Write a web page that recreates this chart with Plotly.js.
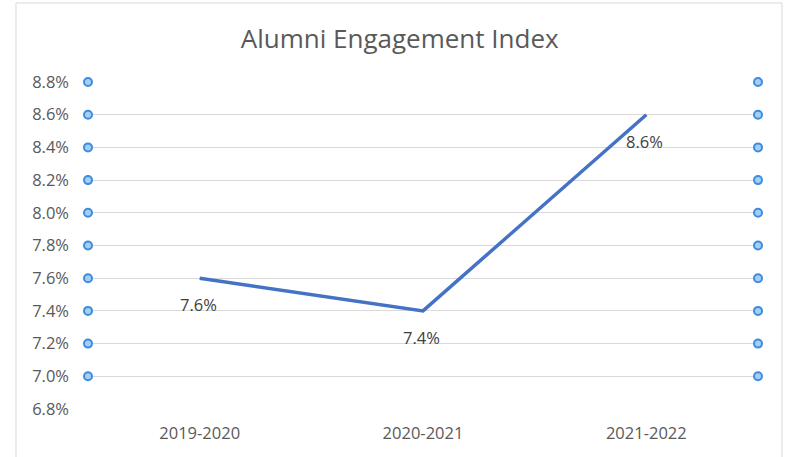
<!DOCTYPE html>
<html>
<head>
<meta charset="utf-8">
<script src="https://cdn.plot.ly/plotly-3.0.1.min.js"></script>
<style>html,body{margin:0;padding:0;background:#fff;}#chart{width:786px;height:457px;}</style>
</head>
<body>
<div id="chart"></div>
<script>
var categories = ["2019-2020", "2020-2021", "2021-2022"];
var values = [7.6, 7.4, 8.6];
var valueLabels = ["7.6%", "7.4%", "8.6%"];
var tickValues = [6.8, 7.0, 7.2, 7.4, 7.6, 7.8, 8.0, 8.2, 8.4, 8.6, 8.8];
var tickLabels = ["6.8%", "7.0%", "7.2%", "7.4%", "7.6%", "7.8%", "8.0%", "8.2%", "8.4%", "8.6%", "8.8%"];
var edgeDotValues = [7.0, 7.2, 7.4, 7.6, 7.8, 8.0, 8.2, 8.4, 8.6, 8.8];

var xIdx = categories.map(function(c, i){ return i; });
var font = "'Open Sans', 'Noto Sans', sans-serif";

var dotMarker = {size: 8, color: '#A9CDF0', line: {color: '#3A8EE0', width: 2}};

var traces = [
  {
    x: xIdx, y: values, type: 'scatter', mode: 'lines',
    line: {color: '#4472C4', width: 3.5}, hoverinfo: 'skip', showlegend: false
  },
  {
    x: edgeDotValues.map(function(){ return -0.5; }), y: edgeDotValues,
    type: 'scatter', mode: 'markers', cliponaxis: false,
    marker: dotMarker, hoverinfo: 'skip', showlegend: false
  },
  {
    x: edgeDotValues.map(function(){ return 2.5; }), y: edgeDotValues,
    type: 'scatter', mode: 'markers', cliponaxis: false,
    marker: dotMarker, hoverinfo: 'skip', showlegend: false
  }
];

var annotations = xIdx.map(function(i){
  return {
    x: i, y: values[i], xref: 'x', yref: 'y', text: valueLabels[i],
    showarrow: false, xanchor: 'center', yanchor: 'middle', yshift: -26.5, xshift: -1.5,
    font: {family: font, size: 16.5, color: '#404040'}
  };
});

var layout = {
  width: 786, height: 457,
  margin: {l: 88, r: 28, t: 82, b: 48},
  paper_bgcolor: '#ffffff', plot_bgcolor: '#ffffff',
  title: {text: 'Alumni Engagement Index', x: 0.5085, xanchor: 'center', y: 0.915, yanchor: 'middle',
          font: {family: font, size: 26, color: '#595959'}},
  xaxis: {
    range: [-0.5, 2.5], tickvals: xIdx, ticktext: categories,
    showgrid: false, zeroline: false, showline: false, ticks: '',
    ticklabelstandoff: 12,
    tickfont: {family: font, size: 16.5, color: '#595959'}, fixedrange: true
  },
  yaxis: {
    range: [6.8, 8.8], tickvals: tickValues, ticktext: tickLabels,
    showgrid: true, gridcolor: '#D9D9D9', gridwidth: 1, zeroline: false, showline: false,
    ticks: '', ticklabelstandoff: 18,
    tickfont: {family: font, size: 16.5, color: '#595959'}, fixedrange: true
  },
  annotations: annotations,
  shapes: [
    {type: 'line', xref: 'paper', yref: 'paper', x0: -0.1075, x1: -0.1075, y0: -0.2, y1: 1.2416, line: {color: '#D9D9D9', width: 1}},
    {type: 'line', xref: 'paper', yref: 'paper', x0: -0.1075, x1: 1.0358, y0: 1.2416, y1: 1.2416, line: {color: '#D9D9D9', width: 1}},
    {type: 'line', xref: 'paper', yref: 'paper', x0: 1.0358, x1: 1.0358, y0: -0.2, y1: 1.2416, line: {color: '#D9D9D9', width: 1}}
  ]
};

Plotly.newPlot('chart', traces, layout, {displayModeBar: false, staticPlot: true});
</script>
</body>
</html>
